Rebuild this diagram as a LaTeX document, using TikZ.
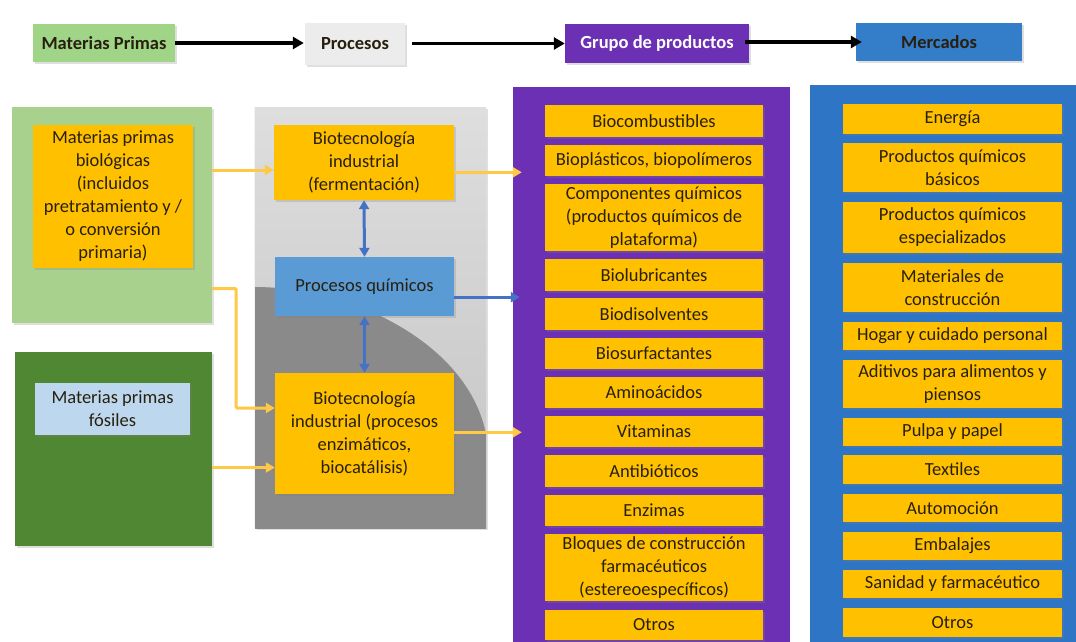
\documentclass[tikz,border=0pt]{standalone}
\usepackage{fontspec}
\setmainfont{Carlito}
\usetikzlibrary{arrows.meta,shadows,calc}
\definecolor{ylw}{RGB}{255,192,0}
\definecolor{ylwline}{RGB}{255,200,70}
\definecolor{purp}{RGB}{108,48,180}
\definecolor{mblue}{RGB}{46,117,197}
\definecolor{hblue}{RGB}{52,125,200}
\definecolor{qblue}{RGB}{91,155,213}
\definecolor{arrblue}{RGB}{68,114,196}
\definecolor{lgreen}{RGB}{169,209,142}
\definecolor{hgreen}{RGB}{160,212,135}
\definecolor{dgreen}{RGB}{80,135,50}
\definecolor{lblue}{RGB}{189,215,238}
\definecolor{hgray}{RGB}{236,236,236}
\definecolor{txt}{RGB}{40,32,15}
\definecolor{pdark}{RGB}{138,138,138}
\definecolor{ptop}{RGB}{222,222,222}
\definecolor{pbot}{RGB}{196,196,196}
\tikzset{
  box/.style={rectangle, inner sep=1pt, align=center, text=txt},
  shad/.style={drop shadow={opacity=0.25, shadow xshift=2pt, shadow yshift=-2pt}},
  yb/.style={box, fill=ylw, shad},
  hdr/.style={box, font=\fontsize{18.5}{22}\selectfont\bfseries, shad},
  topar/.style={line width=3.5pt, -{Triangle[length=11pt,width=12pt]}},
  yar/.style={draw=ylwline, line width=3pt, -{Triangle[length=9pt,width=10pt]}},
  bar/.style={draw=arrblue, line width=3pt, -{Triangle[length=9pt,width=10pt]}},
  bdar/.style={draw=arrblue, line width=3pt, {Triangle[length=9pt,width=10pt]}-{Triangle[length=9pt,width=10pt]}},
}
\begin{document}
\begin{tikzpicture}[x=1pt,y=-1pt, font=\fontsize{18.5}{23}\selectfont]
\useasboundingbox (0,0) rectangle (1076,642);
\fill[white] (0,0) rectangle (1076,642);

% header row
\node[hdr, fill=hgreen, minimum width=142pt, minimum height=38pt] (mp) at (104,43) {Materias Primas};
\node[hdr, fill=hgray, minimum width=100pt, minimum height=42pt] (proc) at (355,44) {Procesos};
\node[hdr, fill=purp, text=white, minimum width=184pt, minimum height=39pt] (grp) at (657,43.5) {Grupo de productos};
\node[hdr, fill=hblue, minimum width=166pt, minimum height=38pt] (merc) at (939,42) {Mercados};
\draw[topar, shorten >=1pt] (mp.east) -- (mp.east -| proc.west);
\draw[topar, shorten <=7pt] (proc.east |- grp.west) -- (grp.west);
\draw[topar, shorten <=-4pt, shorten >=-6pt] (grp.east |- merc.west) -- (merc.west);

% raw materials
\node[box, fill=lgreen, shad, minimum width=200pt, minimum height=216pt] (bio) at (112,215) {};
\node[yb, minimum width=160pt, minimum height=143pt] (bioy) at (113,196.5) {Materias primas\\biológicas\\(incluidos\\pretratamiento y /\\o conversión\\primaria)};
\node[box, fill=dgreen, shad, minimum width=197pt, minimum height=194pt] (fos) at (113.5,449) {};
\node[box, fill=lblue, shad, minimum width=155pt, minimum height=52pt] (fosb) at (112.5,409) {Materias primas\\fósiles};

% process panel
\node[box, shade, top color=ptop, bottom color=pbot, shad, minimum width=231pt, minimum height=421pt] (panel) at (370.5,317.5) {};
\begin{scope}
\clip (panel.north west) rectangle (panel.south east);
\fill[pdark] (255,287) .. controls (360,287) and (482,352) .. (488,450) -- (488,530) -- (255,530) -- cycle;
\draw[gray!70, line width=1pt] (panel.north west) -- (panel.south west);
\end{scope}
\node[yb, minimum width=180pt, minimum height=75pt] (ferm) at (364,162.5) {Biotecnología\\industrial\\(fermentación)};
\node[box, fill=qblue, shad, minimum width=179pt, minimum height=59pt] (quim) at (364.5,286.5) {Procesos químicos};
\node[yb, minimum width=179pt, minimum height=121pt] (enz) at (364.5,433.5) {Biotecnología\\industrial (procesos\\enzimáticos,\\biocatálisis)};
\draw[bdar] (ferm.south) -- (quim.north);
\draw[bdar] (quim.south) -- (enz.north);

% product group panel
\node[box, fill=purp, minimum width=277pt, minimum height=558pt] (purple) at (651.5,366) {};
\foreach \n/\c/\h/\t in {p1/121/32/{Biocombustibles},
  p2/160.5/31/{Bioplásticos, biopolímeros},
  p3/217.5/67/{Componentes químicos\\(productos químicos de\\plataforma)},
  p4/275/32/{Biolubricantes},
  p5/314/32/{Biodisolventes},
  p6/353.5/31/{Biosurfactantes},
  p7/392.5/31/{Aminoácidos},
  p8/431.5/31/{Vitaminas},
  p9/471/32/{Antibióticos},
  p10/510.5/31/{Enzimas},
  p11/567.5/67/{Bloques de construcción\\farmacéuticos\\(estereoespecíficos)},
  p12/625/30/{Otros}}
  \node[yb, minimum width=218pt, minimum height=\h pt] (\n) at (654,\c) {\t};

% markets panel
\node[box, fill=mblue, minimum width=266pt, minimum height=560pt] (market) at (943,365) {};
\foreach \n/\c/\h/\t in {m1/119/30/{Energía},
  m2/167.5/49/{Productos químicos\\básicos},
  m3/227.5/51/{Productos químicos\\especializados},
  m4/287.5/49/{Materiales de\\construcción},
  m5/336/28/{Hogar y cuidado personal},
  m6/384/48/{Aditivos para alimentos y\\piensos},
  m7/432/28/{Pulpa y papel},
  m8/469.5/29/{Textiles},
  m9/508/28/{Automoción},
  m10/546/28/{Embalajes},
  m11/584/28/{Sanidad y farmacéutico},
  m12/622.5/29/{Otros}}
  \node[yb, minimum width=219pt, minimum height=\h pt] (\n) at (952.5,\c) {\t};

% connectors
\coordinate (a1) at ($(ferm.north west)!0.6!(ferm.south west)$);
\draw[yar] (a1 -| bio.east) -- (a1);
\coordinate (g1) at ($(bio.north east)!0.84!(bio.south east)$);
\coordinate (e1) at ($(enz.north west)!0.29!(enz.south west)$);
\draw[yar, rounded corners=1pt] (g1) -- ++(24,0) |- (e1);
\coordinate (e2) at ($(enz.north west)!0.78!(enz.south west)$);
\draw[yar] (e2 -| fos.east) -- (e2);
\coordinate (f1) at ($(ferm.north east)!0.63!(ferm.south east)$);
\draw[yar, shorten >=-9pt] (f1) -- (f1 -| purple.west);
\coordinate (q1) at ($(quim.north east)!0.68!(quim.south east)$);
\draw[bar, shorten >=-7pt] (q1) -- (q1 -| purple.west);
\coordinate (z1) at ($(enz.north east)!0.49!(enz.south east)$);
\draw[yar, shorten >=-9pt] (z1) -- (z1 -| purple.west);
\end{tikzpicture}
\end{document}
